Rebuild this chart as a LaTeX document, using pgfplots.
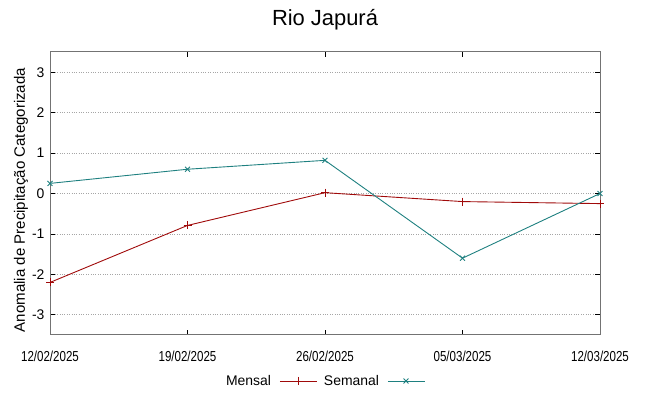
\documentclass[border=0pt]{standalone}
\usepackage{pgfplots}
\pgfplotsset{compat=1.18}
\usepackage{fontspec}
\setmainfont{Liberation Sans}
\definecolor{mensal}{RGB}{160,10,10}
\definecolor{semanal}{RGB}{30,128,128}
\newcommand{\xl}[1]{\scalebox{0.8}[1]{#1}}
\begin{document}
\begin{tikzpicture}
\begin{axis}[
  name=ax,
  scale only axis,
  width=550bp, height=283bp,
  xmin=0, xmax=4, ymin=-3.5, ymax=3.5,
  xtick={0,1,2,3,4},
  xticklabels={\xl{12/02/2025},\xl{19/02/2025},\xl{26/02/2025},\xl{05/03/2025},\xl{12/03/2025}},
  ytick={-3,-2,-1,0,1,2,3},
  /pgf/number format/assume math mode=true,
  tick label style={font=\fontsize{14}{14}\selectfont},
  xticklabel style={font=\fontsize{14.5}{14.5}\selectfont, yshift=-13bp},
  yticklabel style={xshift=-2bp},
  tick align=inside,
  major tick length=5bp,
  tick style={black, line width=0.8pt},
  axis line style={gray!90!black, line width=1pt},
  ymajorgrids,
  grid style={dotted, gray!70, line width=0.8pt},
  ylabel={Anomalia de Precipitação Categorizada},
  every axis y label/.style={at={(rel axis cs:0,0.5)}, xshift=-29bp, yshift=-6.5bp, rotate=90, anchor=center, font=\fontsize{15.1}{15.1}\selectfont},
  legend columns=2,
  legend plot pos=right,
  legend style={draw=none, fill=none, at={(0.5,0)}, anchor=north, yshift=-36bp, font=\fontsize{14}{14}\selectfont, /tikz/every even column/.append style={column sep=4bp}},
  legend image code/.code={\pgfpathrectangle{\pgfpoint{0bp}{-1bp}}{\pgfpoint{45bp}{2bp}}\pgfusepath{use as bounding box}\draw[#1] (7bp,0bp) -- (25bp,0bp) plot coordinates {(25bp,0bp)} -- (44bp,0bp);},
]
\addplot[color=mensal, line width=0.9pt, mark=+, mark size=4bp] coordinates {(0,-2.2) (1,-0.79) (2,0.02) (3,-0.2) (4,-0.25)};
\addlegendentry{Mensal}
\addplot[color=semanal, line width=0.9pt, mark=x, mark size=3.5bp] coordinates {(0,0.25) (1,0.6) (2,0.82) (3,-1.6) (4,0.0)};
\addlegendentry{Semanal}
\end{axis}
\node[font=\fontsize{22}{22}\selectfont] at ([yshift=32bp]ax.north) {Rio Japurá};
\pgfresetboundingbox
\path ([xshift=-50bp,yshift=-61bp]ax.south west) rectangle ([xshift=48bp,yshift=52bp]ax.north east);
\end{tikzpicture}
\end{document}
